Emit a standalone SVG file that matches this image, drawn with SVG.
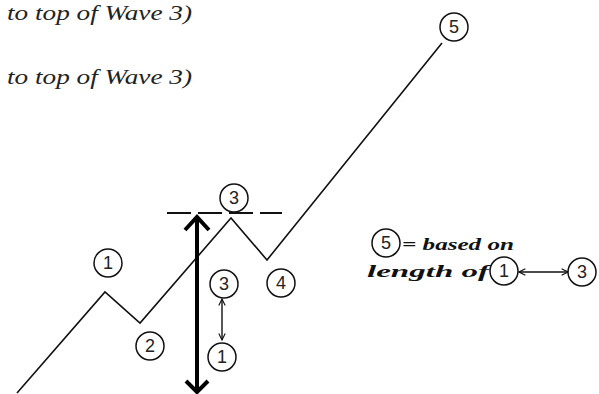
<svg xmlns="http://www.w3.org/2000/svg" width="599" height="394" viewBox="0 0 599 394">
<defs>
<style>
.c{fill:#fff;stroke:#111;stroke-width:1.5}
.n{font-size:18px;fill:#222;text-anchor:middle}
.t{font-style:italic;font-size:21px;fill:#222}
.l{font-style:italic;font-weight:bold;font-size:17px;fill:#111}
.w{fill:none;stroke:#111;stroke-width:1.6}
</style>
<marker id="sa" viewBox="0 0 10 10" refX="9" refY="5" markerWidth="8" markerHeight="8" markerUnits="userSpaceOnUse" orient="auto-start-reverse">
<path d="M1,1 L9,5 L1,9" fill="none" stroke="#111" stroke-width="1.4"/>
</marker>
</defs>
<rect width="599" height="394" fill="#fff"/>
<text class="t" font-family="Liberation Serif, serif" x="7" y="20" textLength="185" lengthAdjust="spacingAndGlyphs">to top of Wave 3)</text>
<text class="t" font-family="Liberation Serif, serif" x="7" y="84" textLength="185" lengthAdjust="spacingAndGlyphs">to top of Wave 3)</text>
<g id="connectors">
<polyline class="w" points="17,393 105,292 140,323 231,218 267,260 442,43"/>
<line x1="167" y1="213" x2="282" y2="213" stroke="#111" stroke-width="2" stroke-dasharray="24,7"/>
<line x1="197" y1="217" x2="197" y2="391" stroke="#000" stroke-width="4"/>
<polyline points="185,230 197,217 209,230" fill="none" stroke="#000" stroke-width="4"/>
<polyline points="186,381 197,392 208,381" fill="none" stroke="#000" stroke-width="4"/>
<line x1="222" y1="299" x2="222" y2="340" stroke="#111" stroke-width="1.4" marker-start="url(#sa)" marker-end="url(#sa)"/>
<line x1="519" y1="272" x2="568" y2="272" stroke="#111" stroke-width="1.4" marker-start="url(#sa)" marker-end="url(#sa)"/>
</g>
<g font-family="Liberation Sans, Arial, sans-serif">
<g id="w5"><circle class="c" cx="454" cy="27" r="14"/><text class="n" x="454" y="33">5</text></g>
<g id="w1"><circle class="c" cx="108" cy="263" r="14"/><text class="n" x="108" y="269">1</text></g>
<g id="w2"><circle class="c" cx="150" cy="346" r="14"/><text class="n" x="150" y="352">2</text></g>
<g id="w3"><circle class="c" cx="234" cy="198" r="14"/><text class="n" x="234" y="204">3</text></g>
<g id="w4"><circle class="c" cx="281" cy="283" r="14"/><text class="n" x="281" y="289">4</text></g>
<g id="s3"><circle class="c" cx="224" cy="284" r="14"/><text class="n" x="224" y="290">3</text></g>
<g id="s1"><circle class="c" cx="222" cy="357" r="14"/><text class="n" x="222" y="363">1</text></g>
<g id="legend">
<circle class="c" cx="386" cy="243" r="14"/><text class="n" x="386" y="249">5</text>
<text class="l" font-family="Liberation Serif, serif" x="402" y="250" textLength="112" lengthAdjust="spacingAndGlyphs">= based on</text>
<text class="l" font-family="Liberation Serif, serif" x="367" y="277" textLength="122" lengthAdjust="spacingAndGlyphs">length of</text>
<circle class="c" cx="504" cy="271" r="14"/><text class="n" x="504" y="277">1</text>
<circle class="c" cx="582" cy="272" r="14"/><text class="n" x="582" y="278">3</text>
</g>
</g>
</svg>
